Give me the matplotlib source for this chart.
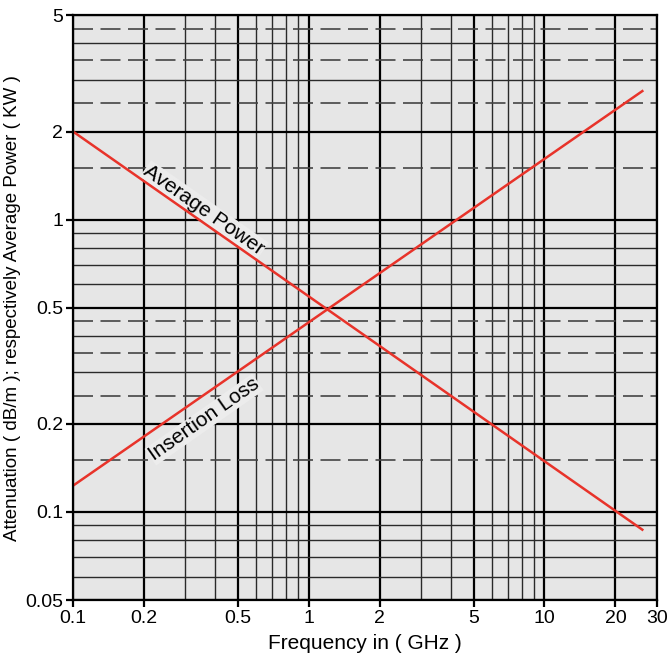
import matplotlib
matplotlib.use('Agg')
import matplotlib.pyplot as plt
import numpy as np

# Données (droites en log-log, deux points suffisent)
freq = [0.1, 26]
avg_power = [2.0, 0.087]
insertion_loss = [0.123, 2.75]

x_ticks = [0.1, 0.2, 0.5, 1, 2, 5, 10, 20, 30]
x_thin = [0.3, 0.4, 0.6, 0.7, 0.8, 0.9, 3, 4, 6, 7, 8, 9]
y_ticks = [0.05, 0.1, 0.2, 0.5, 1, 2, 5]
y_thin = [0.06, 0.07, 0.08, 0.09, 0.3, 0.4, 0.6, 0.7, 0.8, 0.9, 3, 4]
y_dash = [0.15, 0.25, 0.35, 0.45, 1.5, 2.5, 3.5, 4.5]

plt.rcParams['font.family'] = ['Liberation Sans', 'DejaVu Sans']

fig = plt.figure(figsize=(6.68, 6.59), dpi=100, facecolor='white')
ax = fig.add_axes([0.1093, 0.0895, 0.8742, 0.8875])
ax.set_facecolor('#e6e6e6')
ax.set_xscale('log')
ax.set_yscale('log')
ax.set_xlim(0.1, 30)
ax.set_ylim(0.05, 5)

# Grille
for v in x_thin:
    ax.axvline(v, color='#2a2a2a', lw=1.0, zorder=1)
for v in x_ticks:
    ax.axvline(v, color='black', lw=1.6, zorder=1)
for v in y_thin:
    ax.axhline(v, color='#2a2a2a', lw=1.0, zorder=1)
for v in y_dash:
    ax.axhline(v, color='#444444', lw=1.2, linestyle=(0, (12, 4.5)), zorder=1)
for v in y_ticks:
    ax.axhline(v, color='black', lw=1.6, zorder=1)

# Courbes (au-dessus des étiquettes)
ax.plot(freq, avg_power, color='#e8332a', lw=1.8, zorder=5)
ax.plot(freq, insertion_loss, color='#e8332a', lw=1.8, zorder=5)

fond = dict(facecolor='#ececec', edgecolor='none', pad=0.5)
ax.text(0.36, 1.08, 'Average Power', rotation=-35, fontsize=15,
        ha='center', va='center', rotation_mode='anchor', zorder=4, bbox=fond)
ax.text(0.36, 0.207, 'Insertion Loss', rotation=35, fontsize=15,
        ha='center', va='center', rotation_mode='anchor', zorder=4, bbox=fond)

# Axes
ax.set_xticks(x_ticks)
ax.set_xticklabels([f'{v:g}' for v in x_ticks])
ax.set_yticks(y_ticks)
ax.set_yticklabels([f'{v:g}' for v in y_ticks])
ax.minorticks_off()
ax.tick_params(direction='out', length=5, width=1.6, labelsize=14, pad=2)

for spine in ax.spines.values():
    spine.set_linewidth(1.6)
    spine.set_zorder(6)

ax.set_xlabel('Frequency in ( GHz )', fontsize=15, labelpad=5)
ax.set_ylabel('Attenuation ( dB/m ); respectively Average Power ( KW )',
              fontsize=13.5, labelpad=3)

plt.savefig('out.png', dpi=100, facecolor='white')
